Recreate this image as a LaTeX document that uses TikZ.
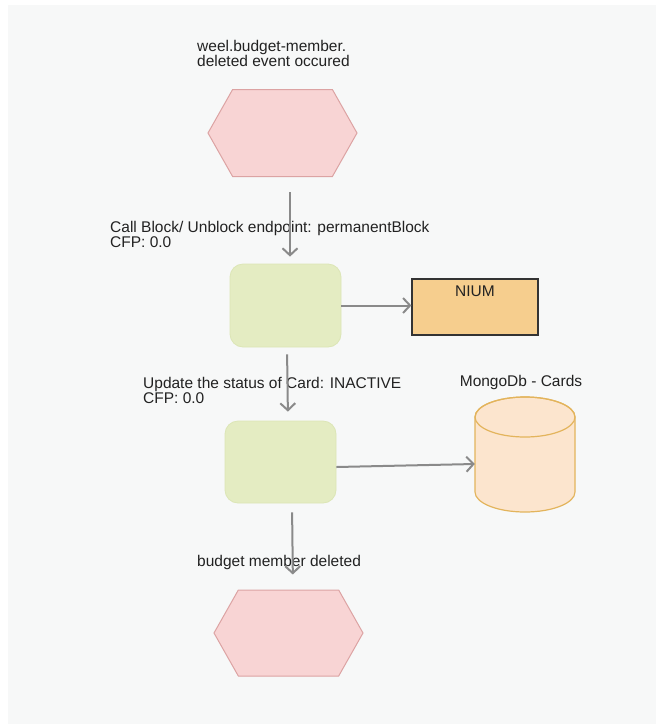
\documentclass[tikz,border=0pt]{standalone}
\usepackage{fontspec}
\setmainfont{Liberation Sans}
\usetikzlibrary{arrows.meta,shapes.symbols}

\definecolor{canvasgray}{HTML}{F7F8F8}
\definecolor{eventpink}{HTML}{F8D4D4}
\definecolor{eventedge}{HTML}{DCA3A3}
\definecolor{stepgreen}{HTML}{E4ECC2}
\definecolor{stepedge}{HTML}{DCE6B6}
\definecolor{niumfill}{HTML}{F6CE8E}
\definecolor{dbfill}{HTML}{FCE5CE}
\definecolor{dbedge}{HTML}{E3B45C}
\definecolor{flowgray}{HTML}{8A8A8A}
\definecolor{textgray}{HTML}{222222}

\begin{document}
\begin{tikzpicture}[x=1pt, y=-1pt,
  font=\fontsize{15.5}{13.5}\selectfont, text=textgray,
  event/.style={signal, signal to=west and east, signal pointer angle=121,
    fill=eventpink, draw=eventedge, line width=1pt,
    minimum width=149pt, minimum height=87pt, inner sep=0pt},
  stepbox/.style={rounded corners=13pt, fill=stepgreen, draw=stepedge,
    line width=0.8pt, minimum width=111pt, minimum height=83pt, inner sep=0pt},
  caption/.style={anchor=north west, align=left, inner sep=0pt},
  flow/.style={draw=flowgray, line width=2pt,
    -{Straight Barb[length=7pt,width=15pt]}}
]

  % Canvas
  \useasboundingbox (0,0) rectangle (656,724);
  \fill[white] (0,0) rectangle (656,724);
  \fill[canvasgray] (8,5) rectangle (656,724);

  % Start event
  \node[event] (start) at (282.5,133) {};
  \node[caption] (startlbl) at (197,40) {weel.budget-member.\\deleted event occured};

  % Block endpoint step
  \node[stepbox] (blockStep) at (285.5,305.5) {};
  \node[caption] (blocklbl) at (110,221) {Call Block/ Unblock endpoint: permanentBlock\\CFP: 0.0};

  % NIUM system
  \node[rectangle, fill=niumfill, draw=black!80, line width=1.2pt,
    minimum width=126pt, minimum height=56pt, inner sep=0pt,
    label={[anchor=north, yshift=-4pt]north:NIUM}] (nium) at (475,307) {};

  % Card status step
  \node[stepbox, minimum height=82pt] (updStep) at (280.5,462) {};
  \node[caption] (updlbl) at (143,377) {Update the status of Card: INACTIVE\\CFP: 0.0};

  % Cards collection
  \node[minimum width=100pt, minimum height=115pt, inner sep=0pt] (cards) at (525,454.5) {};
  \draw[fill=dbfill, draw=dbedge, line width=1.2pt]
    (475,417) -- (475,492) arc[start angle=180, end angle=0, x radius=50, y radius=20]
    -- (575,417) arc[start angle=0, end angle=-180, x radius=50, y radius=20] -- cycle;
  \draw[draw=dbedge, line width=1.2pt] (525,417) ellipse[x radius=50, y radius=20];
  \node[anchor=base] (cardslbl) at (521,386) {MongoDb - Cards};

  % End event
  \node[event, minimum height=86pt] (finish) at (288.5,633) {};
  \node[caption] (finishlbl) at (197,555) {budget member deleted};

  % Flow arrows
  \draw[flow, shorten <=15pt, shorten >=7pt] ([xshift=7.5pt]start.south) -- ([xshift=4.5pt]blockStep.north);
  \draw[flow, shorten <=7pt, shorten >=9pt] ([xshift=1.5pt]blockStep.south) -- ([xshift=7.5pt]updStep.north);
  \draw[flow, shorten <=9pt, shorten >=15pt] ([xshift=11.5pt]updStep.south) -- ([xshift=4.5pt]finish.north);
  \draw[flow] (blockStep.east) -- (blockStep.east -| nium.west);
  \draw[flow] ([yshift=-5pt]updStep.east) -- ([yshift=-9.5pt]cards.west);

\end{tikzpicture}
\end{document}
